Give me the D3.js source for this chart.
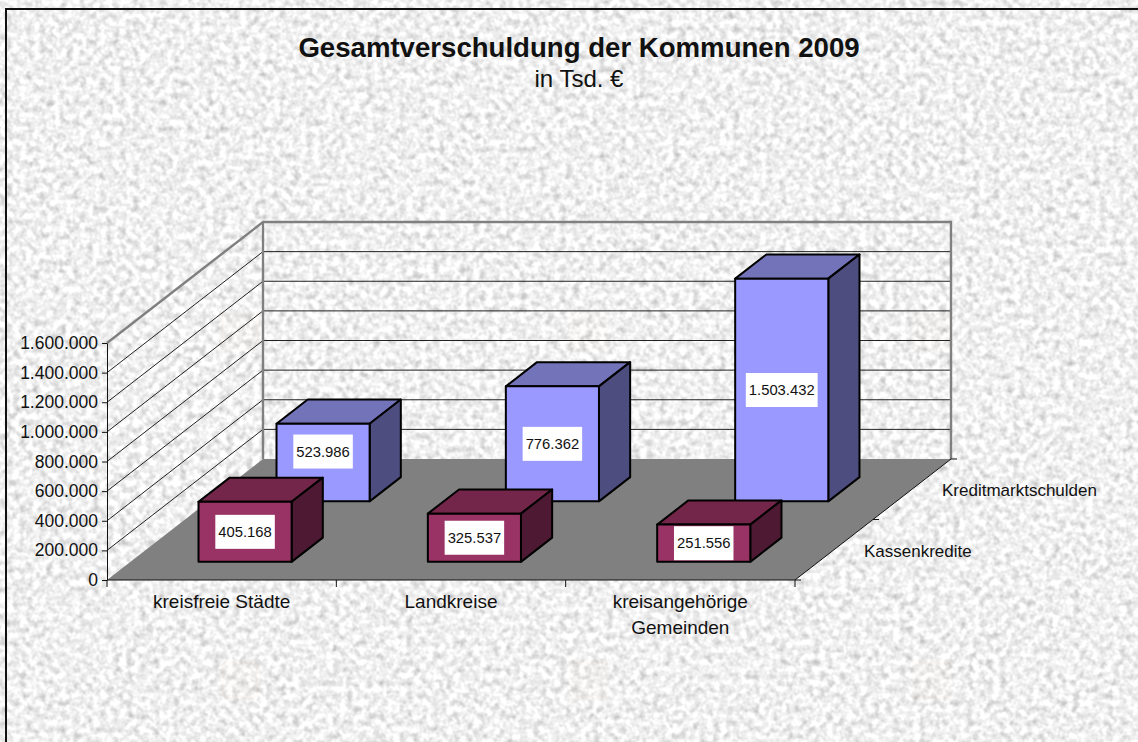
<!DOCTYPE html>
<html>
<head>
<meta charset="utf-8">
<script src="https://cdn.jsdelivr.net/npm/d3@7"></script>
<style>
  html, body { margin: 0; padding: 0; background: #eee; overflow: hidden; }
  svg { display: block; }
  text { font-family: "Liberation Sans", Arial, sans-serif; fill: #111; }
</style>
</head>
<body>
<svg width="1138" height="742"></svg>
<script>
var chartTitle = "Gesamtverschuldung der Kommunen 2009";
var chartSubtitle = "in Tsd. €";
var categories = ["kreisfreie Städte", "Landkreise", "kreisangehörige Gemeinden"];
var seriesNames = ["Kassenkredite", "Kreditmarktschulden"];
var kassenkredite = [405168, 325537, 251556];
var kreditmarktschulden = [523986, 776362, 1503432];
var yTicks = [0, 200000, 400000, 600000, 800000, 1000000, 1200000, 1400000, 1600000];

var svg = d3.select("svg");
var defs = svg.append("defs");

// paper texture for the whole background
var paper = defs.append("filter").attr("id", "paper")
    .attr("x", 0).attr("y", 0).attr("width", "100%").attr("height", "100%")
    .attr("color-interpolation-filters", "sRGB");
paper.append("feTurbulence")
    .attr("type", "fractalNoise").attr("baseFrequency", 0.15)
    .attr("numOctaves", 2).attr("seed", 7);
paper.append("feColorMatrix").attr("type", "matrix")
    .attr("values", "0.36 0.2 0 0 0.66  0.36 0.2 0 0 0.66  0.36 0.2 0 0 0.66  0 0 0 0 1");

svg.append("rect").attr("width", 1138).attr("height", 742).attr("filter", "url(#paper)");

// faint stains of the tiled background image
[240, 590, 932].forEach(function(cx) {
  [330, 680].forEach(function(cy) {
    svg.append("rect").attr("x", cx - 20).attr("y", cy - 20).attr("width", 40).attr("height", 40)
        .attr("fill", "#e8d8c0").attr("opacity", 0.06);
  });
});

// front plane of the 3d box and the shift towards the back wall
var originX = 107, floorY = 580, plotW = 688, plotH = 237;
var depthX = 156, depthY = 121;

var x = d3.scaleBand().domain(categories).range([0, plotW]).paddingInner(0.594).paddingOuter(0.297);
var step = x.step();
var y = d3.scaleLinear().domain([0, 1600000]).range([floorY, floorY - plotH]);
var z = d3.scaleBand().domain(seriesNames).range([0, 1]).paddingInner(0.6).paddingOuter(0.3);

function px(xv, zv) { return originX + xv + zv * depthX; }
function py(v, zv) { return y(v) - zv * depthY; }
function pt(xv, v, zv) { return px(xv, zv) + "," + py(v, zv); }

var fmt = d3.formatLocale({ decimal: ",", thousands: ".", grouping: [3], currency: ["", ""] }).format(",d");

// floor
svg.append("polygon")
    .attr("points", [pt(0, 0, 0), pt(plotW, 0, 0), pt(plotW, 0, 1), pt(0, 0, 1)].join(" "))
    .attr("fill", "#808080");

// gridlines on side wall and back wall
yTicks.forEach(function(t) {
  if (t === 0 || t === 1600000) return;
  svg.append("polyline")
      .attr("points", [pt(0, t, 0), pt(0, t, 1), pt(plotW, t, 1)].join(" "))
      .attr("fill", "none")
      .attr("stroke", "#222")
      .attr("stroke-width", 1);
});
// outline of the walls
svg.append("polyline")
    .attr("points", [pt(0, 1600000, 0), pt(0, 1600000, 1), pt(plotW, 1600000, 1), pt(plotW, 0, 1)].join(" "))
    .attr("fill", "none").attr("stroke", "#808080").attr("stroke-width", 2.4);
svg.append("line")
    .attr("x1", px(0, 1)).attr("y1", py(0, 1)).attr("x2", px(0, 1)).attr("y2", py(1600000, 1))
    .attr("stroke", "#808080").attr("stroke-width", 2.4);

// bars, back row first
var rows = [
  { name: seriesNames[1], values: kreditmarktschulden, front: "#9999ff", top: "#7373b9", side: "#4d4d80" },
  { name: seriesNames[0], values: kassenkredite, front: "#993366", top: "#732649", side: "#4d1933" }
];

// the label of the first blue bar sits higher than the centre of its face
var labelNudge = { 523986: -11 };

rows.forEach(function(row) {
  var z0 = z(row.name), z1 = z0 + z.bandwidth();
  var g = svg.append("g").attr("stroke", "#000").attr("stroke-width", 2).attr("stroke-linejoin", "round");

  row.values.forEach(function(v, i) {
    var x0 = x(categories[i]), x1 = x0 + x.bandwidth();
    g.append("polygon")
        .attr("points", [pt(x0, v, z0), pt(x1, v, z0), pt(x1, v, z1), pt(x0, v, z1)].join(" "))
        .attr("fill", row.top);
    g.append("polygon")
        .attr("points", [pt(x1, 0, z0), pt(x1, 0, z1), pt(x1, v, z1), pt(x1, v, z0)].join(" "))
        .attr("fill", row.side);
    g.append("rect")
        .attr("x", px(x0, z0)).attr("y", py(v, z0))
        .attr("width", x1 - x0).attr("height", py(0, z0) - py(v, z0))
        .attr("fill", row.front);
  });
});

// value labels go on top of every bar
rows.forEach(function(row) {
  var z0 = z(row.name);
  row.values.forEach(function(v, i) {
    var cx = px(x(categories[i]) + x.bandwidth() / 2, z0);
    var cy = (py(0, z0) + py(v, z0)) / 2 + (labelNudge[v] || 0);
    var box = svg.append("rect").attr("fill", "#fff");
    var label = svg.append("text")
        .attr("x", cx).attr("y", cy + 5)
        .attr("text-anchor", "middle").attr("font-size", 14.8)
        .text(fmt(v));
    var w = label.node().getComputedTextLength() + 6;
    box.attr("x", cx - w / 2).attr("y", cy - 17).attr("width", w).attr("height", 34);
  });
});

// value axis
var yAxis = svg.append("g")
    .attr("transform", "translate(" + originX + ",0)")
    .call(d3.axisLeft(y).tickValues(yTicks).tickFormat(fmt).tickSize(5).tickSizeOuter(0));
yAxis.selectAll("path, line").attr("stroke", "#111");
yAxis.selectAll("text").attr("font-size", 17.5).attr("font-family", "Liberation Sans").attr("dx", -1).attr("fill", "#111");

// category axis, ticks sit between the categories
svg.append("line")
    .attr("x1", originX).attr("y1", floorY).attr("x2", originX + plotW).attr("y2", floorY)
    .attr("stroke", "#111");
d3.range(categories.length + 1).forEach(function(i) {
  svg.append("line")
      .attr("x1", originX + i * step).attr("x2", originX + i * step)
      .attr("y1", floorY).attr("y2", floorY + 7)
      .attr("stroke", "#111");
});
categories.forEach(function(c, i) {
  var cx = originX + x(c) + x.bandwidth() / 2;
  var lines = c === "kreisangehörige Gemeinden" ? c.split(" ") : [c];
  lines.forEach(function(l, k) {
    svg.append("text")
        .attr("x", cx).attr("y", 608 + k * 26)
        .attr("text-anchor", "middle").attr("font-size", 19)
        .text(l);
  });
});

// depth axis on the right
svg.append("line")
    .attr("x1", px(plotW, 0)).attr("y1", py(0, 0)).attr("x2", px(plotW, 1)).attr("y2", py(0, 1))
    .attr("stroke", "#111");
[0, 0.5, 1].forEach(function(d) {
  svg.append("line")
      .attr("x1", px(plotW, d)).attr("x2", px(plotW, d) + 6)
      .attr("y1", py(0, d)).attr("y2", py(0, d))
      .attr("stroke", "#111");
});
seriesNames.forEach(function(s) {
  var mid = z(s) + z.bandwidth() / 2;
  svg.append("text")
      .attr("x", px(plotW, mid) + 30).attr("y", py(0, mid) + 7)
      .attr("font-size", 17)
      .text(s);
});

// titles
svg.append("text").attr("x", 579).attr("y", 57).attr("text-anchor", "middle")
    .attr("font-size", 27.6).attr("font-weight", "bold").attr("fill", "#000").text(chartTitle);
svg.append("text").attr("x", 579).attr("y", 87).attr("text-anchor", "middle")
    .attr("font-size", 24).text(chartSubtitle);

// chart frame, only left and top edge are inside the picture
svg.append("polyline")
    .attr("points", "6,742 6,9 1138,9")
    .attr("fill", "none").attr("stroke", "#111").attr("stroke-width", 2);
</script>
</body>
</html>
